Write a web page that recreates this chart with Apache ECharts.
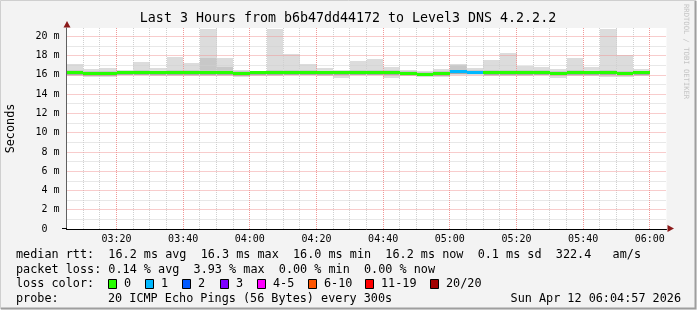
<!DOCTYPE html>
<html><head><meta charset="utf-8">
<script src="https://cdn.jsdelivr.net/npm/echarts@6/dist/echarts.min.js"></script>
<style>html,body{margin:0;padding:0;background:#f3f3f3}#c{width:697px;height:310px}</style>
</head><body><div id="c"></div>
<script>
// ---- data ----
const timeLabels = ['03:05','03:10','03:15','03:20','03:25','03:30','03:35','03:40','03:45','03:50','03:55','04:00',
 '04:05','04:10','04:15','04:20','04:25','04:30','04:35','04:40','04:45','04:50','04:55','05:00',
 '05:05','05:10','05:15','05:20','05:25','05:30','05:35','05:40','05:45','05:50','05:55','06:00','06:05'];
const majorTimes = ['03:20','03:40','04:00','04:20','04:40','05:00','05:20','05:40','06:00'];
const yTickLabels = ['0  ','2 m','4 m','6 m','8 m','10 m','12 m','14 m','16 m','18 m','20 m'];
const medianRtt = [16.20,16.12,16.10,16.22,16.22,16.20,16.24,16.22,16.20,16.24,16.14,16.20,16.24,16.24,16.24,16.20,16.20,16.24,16.24,16.20,16.16,16.08,16.10,16.30,16.26,16.20,16.20,16.20,16.24,16.16,16.20,16.20,16.20,16.16,16.20];
const lossCount = [0,0,0,0,0,0,0,0,0,0,0,0,0,0,0,0,0,0,0,0,0,0,0,1,1,0,0,0,0,0,0,0,0,0,0];
const smokeMax = [17.12,16.60,16.70,16.53,17.33,16.70,17.88,17.20,20.80,17.78,16.47,16.40,20.80,18.13,17.10,16.70,16.50,17.43,17.64,16.85,16.50,16.43,16.60,17.12,16.70,17.54,18.27,16.95,16.78,16.57,17.78,16.80,20.80,18.06,16.60];
const smokeHigh = [16.45,16.35,16.40,16.40,16.50,16.40,16.50,16.45,17.78,16.80,16.35,16.35,16.50,16.45,16.45,16.40,16.35,16.50,16.50,16.45,16.35,16.30,16.40,17.00,16.45,16.45,16.45,16.45,16.45,16.35,16.45,16.40,16.50,16.40,16.40];
const smokeLow = [15.98,15.90,15.88,16.02,16.02,16.00,16.02,16.00,15.98,16.02,15.92,15.98,16.02,16.02,16.02,15.98,15.95,16.02,16.02,15.95,15.92,15.88,15.90,16.10,16.05,15.98,15.98,15.95,16.02,15.92,15.98,15.98,15.95,15.92,15.98];
const smokeMin = [15.85,15.80,15.80,15.95,15.95,15.92,15.92,15.92,15.90,15.85,15.80,15.90,15.92,15.95,15.95,15.90,15.70,15.95,15.95,15.70,15.85,15.80,15.80,15.98,15.95,15.85,15.90,15.85,15.95,15.70,15.90,15.90,15.82,15.80,15.90];
const lossLabels = ['0','1','2','3','4-5','6-10','11-19','20/20'];
const lossColors = ['#26ff00','#00b8ff','#0059ff','#7e00ff','#ff00ff','#ff5500','#ff0000','#a10000'];
const rttLine = 'median rtt:  16.2 ms avg  16.3 ms max  16.0 ms min  16.2 ms now  0.1 ms sd  322.4   am/s';
const lossLine = 'packet loss: 0.14 % avg  3.93 % max  0.00 % min  0.00 % now';
const probeText = ['probe:','20 ICMP Echo Pings (56 Bytes) every 300s','Sun Apr 12 06:04:57 2026'];
const titleText = 'Last 3 Hours from b6b47dd44172 to Level3 DNS 4.2.2.2';

// ---- chart ----
const FONT = '"DejaVu Sans Mono", monospace';
const LFONT = '11.8px "DejaVu Sans Mono", monospace';
const RED = '#f09898', GRAY = '#d0d0d0';
const isMajor = s => majorTimes.indexOf(s) >= 0;
const smokeData = medianRtt.map((m, i) => [i, smokeMin[i], smokeLow[i], smokeHigh[i], smokeMax[i], m, lossCount[i]]);
const minorGrid = [], majorGrid = [];
timeLabels.forEach((t, i) => {
  if (i === 0 || i === timeLabels.length - 1) return;
  (isMajor(t) ? majorGrid : minorGrid).push([t, 0]);
});
function lossBucket(n){ if(n<=3) return n; if(n<=5) return 4; if(n<=10) return 5; if(n<=19) return 6; return 7; }

const chart = echarts.init(document.getElementById('c'), null, {renderer:'canvas', width:697, height:310});

function bandRect(api, i, lo, hi, fill){
  const x0 = Math.round(api.coord([i, lo])[0]), x1 = Math.round(api.coord([i + 1, lo])[0]);
  const y0 = Math.round(api.coord([i, hi])[1]), y1 = Math.round(api.coord([i, lo])[1]);
  return {type:'rect', shape:{x:x0, y:y0, width:x1 - x0, height:Math.max(1, y1 - y0)}, style:{fill:fill}};
}
function txt(x, y, t, extra){
  return {type:'text', x:x, y:y, style:Object.assign({text:t, font:LFONT, fill:'#000', textVerticalAlign:'middle'}, extra || {})};
}
function gridSeries(data, color, z){
  return {type:'custom', z:z, silent:true, data:data, encode:{x:0, y:1},
    renderItem:(params, api)=>{
      const cs = params.coordSys;
      const x = Math.floor(api.coord([api.value(0), 0])[0]) + 0.5;
      return {type:'line', shape:{x1:x, y1:cs.y, x2:x, y2:cs.y + cs.height},
              style:{stroke:color, lineWidth:1, lineDash:[1,1]}};
    }};
}

const texts = [];
texts.push(txt(16, 255, rttLine));
texts.push(txt(16, 269.5, lossLine));
texts.push(txt(16, 284, 'loss color:'));
const boxX = [108,145,182,220,257,308,365,430];
lossLabels.forEach((t,k)=>{
  texts.push({type:'rect', shape:{x:boxX[k]+0.5, y:279.5, width:8, height:9}, style:{fill:lossColors[k], stroke:'#000', lineWidth:1}});
  texts.push(txt(boxX[k]+16, 284, t));
});
texts.push(txt(16, 298.5, probeText[0]));
texts.push(txt(108, 298.5, probeText[1]));
texts.push(txt(681, 298.5, probeText[2], {textAlign:'right'}));
texts.push(txt(348, 19, titleText, {font:'13.3px "DejaVu Sans Mono", monospace', textAlign:'center'}));
texts.push({type:'text', x:686, y:4, rotation:-Math.PI/2, style:{text:'RRDTOOL / TOBI OETIKER', font:'7.2px "DejaVu Sans Mono", monospace', fill:'#c4c4c4', textVerticalAlign:'middle'}});
texts.push({type:'polygon', shape:{points:[[63.5,27.5],[70.5,27.5],[67,21]]}, style:{fill:'#8b1a1a'}, z:20});
texts.push({type:'polygon', shape:{points:[[667.5,225],[667.5,232],[674,228.5]]}, style:{fill:'#8b1a1a'}, z:20});
texts.push({type:'line', shape:{x1:62, y1:228.5, x2:67, y2:228.5}, style:{stroke:'#000', lineWidth:1}, z:20});
texts.push({type:'polyline', shape:{points:[[0.5,309],[0.5,0.5],[696,0.5]]}, style:{stroke:'#cfcfcf', lineWidth:1}});
texts.push({type:'polyline', shape:{points:[[1,308.5],[695.5,308.5],[695.5,1]]}, style:{stroke:'#9e9e9e', lineWidth:2}});

const splitColors = [];
for (let k = 0; k < 22; k++) splitColors.push(k % 2 === 0 ? RED : GRAY);

chart.setOption({
  animation:false,
  backgroundColor:'#f3f3f3',
  grid:{left:66.5, right:30.5, top:28, bottom:81, show:true, backgroundColor:'#ffffff', borderWidth:0,
        containLabel:false, outerBoundsMode:'none'},
  xAxis:{type:'category', data:timeLabels, boundaryGap:false, z:6,
     axisLine:{show:true, lineStyle:{color:'#000', width:1}},
     axisTick:{show:false},
     axisLabel:{interval:(i,v)=>isMajor(v), fontFamily:FONT, fontSize:10, color:'#000', margin:5},
     splitLine:{show:false}},
  yAxis:{type:'value', min:0, max:20.86, interval:1, z:5,
    name:'Seconds', nameLocation:'middle', nameRotate:90, nameGap:50,
    nameTextStyle:{fontFamily:FONT, fontSize:11.8, color:'#000'},
    axisLine:{show:true, lineStyle:{color:'#606060', width:1}},
    axisTick:{show:false},
    axisLabel:{showMaxLabel:false, fontFamily:FONT, fontSize:10, color:'#000', margin:7,
      formatter:v => (Math.abs(v - Math.round(v)) < 1e-6 && Math.round(v) % 2 === 0 && v <= 20) ? yTickLabels[Math.round(v)/2] : ''},
    splitLine:{show:true, showMaxLine:false, lineStyle:{color:splitColors, type:[1,1], width:1}}
  },
  series:[
    {type:'custom', z:1, clip:true, data:smokeData, encode:{x:0, y:5},
     renderItem:(params, api)=>{
       const i = api.value(0);
       return {type:'group', children:[
         bandRect(api, i, api.value(1), api.value(4), '#dcdcdc'),
         bandRect(api, i, api.value(2), api.value(3), '#c8c8c8'),
         bandRect(api, i, api.value(5) - 0.22, api.value(5) + 0.05, '#a8a8a8')
       ]};
     }},
    gridSeries(minorGrid, GRAY, 3),
    gridSeries(majorGrid, RED, 8),
    {type:'custom', z:10, clip:true, data:smokeData, encode:{x:0, y:5},
     renderItem:(params, api)=>{
       const i = api.value(0);
       const p0 = api.coord([i, api.value(5)]), p1 = api.coord([i + 1, api.value(5)]);
       const x0 = Math.round(p0[0]), x1 = Math.round(p1[0]);
       return {type:'rect', shape:{x:x0, y:Math.round(p0[1] - 1.5), width:x1 - x0, height:3},
               style:{fill:lossColors[lossBucket(api.value(6))]}};
     }}
  ],
  graphic:texts
});
</script></body></html>
